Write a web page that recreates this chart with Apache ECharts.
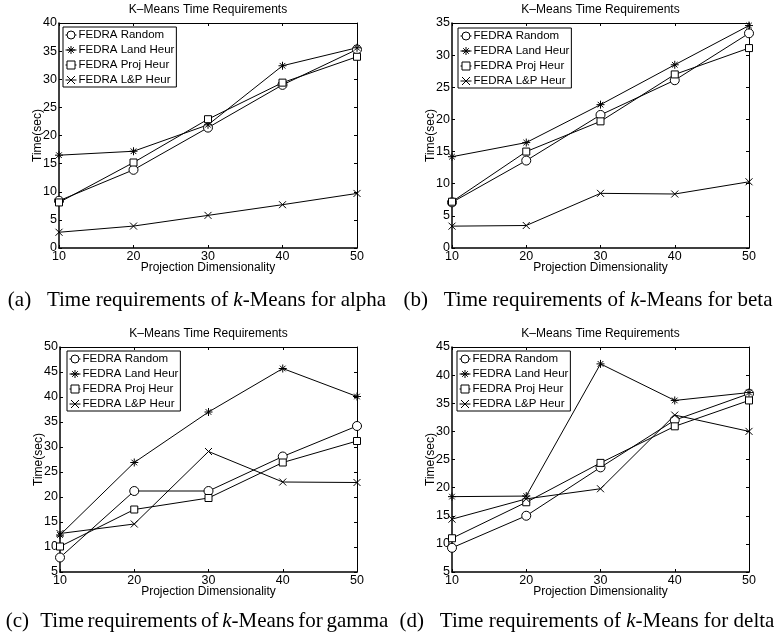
<!DOCTYPE html>
<html>
<head>
<meta charset="utf-8">
<script src="https://cdn.jsdelivr.net/npm/echarts@6/dist/echarts.min.js"></script>
<style>
  html, body { margin: 0; padding: 0; background: #fff; }
  #main { width: 778px; height: 639px; }
</style>
</head>
<body>
<div id="main"></div>
<script>
// projection dimensionality (x)
const dims = [10, 20, 30, 40, 50]
const seriesNames = ['FEDRA Random', 'FEDRA Land Heur', 'FEDRA Proj Heur', 'FEDRA L&P Heur']

// (a) alpha
const alphaRandom = [8.4, 13.9, 21.4, 29.0, 35.3]
const alphaLand = [16.5, 17.2, 21.9, 32.4, 35.6]
const alphaProj = [8.1, 15.2, 22.9, 29.4, 34.0]
const alphaLP = [2.8, 3.9, 5.8, 7.7, 9.7]

// (b) beta
const betaRandom = [7.1, 13.6, 20.7, 26.1, 33.4]
const betaLand = [14.2, 16.4, 22.3, 28.5, 34.6]
const betaProj = [7.2, 15.0, 19.7, 27.0, 31.1]
const betaLP = [3.4, 3.5, 8.5, 8.4, 10.3]

// (c) gamma
const gammaRandom = [7.9, 21.2, 21.2, 28.1, 34.2]
const gammaLand = [12.4, 26.9, 37.0, 45.7, 40.1]
const gammaProj = [10.1, 17.5, 19.8, 26.9, 31.2]
const gammaLP = [12.7, 14.6, 29.1, 23.0, 22.9]

// (d) delta
const deltaRandom = [9.3, 15.0, 23.6, 32.0, 36.7]
const deltaLand = [18.4, 18.5, 42.0, 35.5, 36.9]
const deltaProj = [11.0, 17.4, 24.4, 30.9, 35.5]
const deltaLP = [14.4, 18.0, 19.8, 32.9, 30.0]

// y axis ranges per panel
const yMins = [0, 0, 5, 5]
const yMaxs = [40, 35, 50, 45]

const titleText = 'K–Means Time Requirements'
const xName = 'Projection Dimensionality'
const yName = 'Time(sec)'
// {s| } is a squeezed space (caption (c) is set tighter in the paper)
const captions = [
    '(a)   Time requirements of {i|k}-Means for alpha',
    '(b)   Time requirements of {i|k}-Means for beta',
    '(c){s|   }Time{s| }requirements{s| }of{s| }{i|k}-Means{s| }for{s| }gamma',
    '(d)   Time requirements of {i|k}-Means for delta'
]

const panelData = [
    [alphaRandom, alphaLand, alphaProj, alphaLP],
    [betaRandom, betaLand, betaProj, betaLP],
    [gammaRandom, gammaLand, gammaProj, gammaLP],
    [deltaRandom, deltaLand, deltaProj, deltaLP]
]

// layout
const grids = [
    { left: 59, top: 23, width: 298, height: 225 },
    { left: 452, top: 23, width: 297, height: 225 },
    { left: 60, top: 347, width: 297, height: 225 },
    { left: 452, top: 347, width: 297, height: 225 }
]
const legendPos = [[63, 27], [458, 28], [67, 351], [457, 351]]
const captionPos = [[197, 300], [588, 300], [197, 621], [587, 621]]

const sans = 'Liberation Sans, Arial, Helvetica, sans-serif'
const serif = 'Liberation Serif, Times New Roman, serif'

const symbols = [
    { symbol: 'circle', size: 9 },
    { symbol: 'path://M5 0L5 10M0 5L10 5M1.5 1.5L8.5 8.5M8.5 1.5L1.5 8.5', size: 8 },
    { symbol: 'rect', size: 7 },
    { symbol: 'path://M0 0L10 10M10 0L0 10', size: 7 }
]

const xAxes = []
const yAxes = []
const series = []
const legends = []
const graphics = []

grids.forEach((g, i) => {
    // bottom x axis (labels)
    xAxes.push({
        type: 'value', gridIndex: i, position: 'bottom',
        min: 10, max: 50, interval: 10,
        name: xName, nameLocation: 'middle', nameGap: 14, nameMoveOverlap: false,
        nameTextStyle: { fontFamily: sans, fontSize: 12, color: '#000' },
        axisLine: { onZero: false, lineStyle: { color: '#000', width: 1.5 } },
        axisTick: { inside: true, length: 3, lineStyle: { color: '#000' } },
        axisLabel: { fontFamily: sans, fontSize: 12.5, color: '#000', margin: 2 },
        splitLine: { show: false }
    })
    // top x axis (frame)
    xAxes.push({
        type: 'value', gridIndex: i, position: 'top',
        min: 10, max: 50, interval: 10,
        axisLine: { onZero: false, lineStyle: { color: '#000', width: 1 } },
        axisTick: { inside: true, length: 3, lineStyle: { color: '#000' } },
        axisLabel: { show: false },
        splitLine: { show: false }
    })
    yAxes.push({
        type: 'value', gridIndex: i, position: 'left',
        min: yMins[i], max: yMaxs[i], interval: 5,
        name: yName, nameLocation: 'middle', nameGap: 15, nameMoveOverlap: false,
        nameTextStyle: { fontFamily: sans, fontSize: 12, color: '#000' },
        axisLine: { show: true, onZero: false, lineStyle: { color: '#000', width: 1.5 } },
        axisTick: { show: true, inside: true, length: 3, lineStyle: { color: '#000' } },
        axisLabel: { fontFamily: sans, fontSize: 12.5, color: '#000', margin: 2 },
        splitLine: { show: false }
    })
    yAxes.push({
        type: 'value', gridIndex: i, position: 'right',
        min: yMins[i], max: yMaxs[i], interval: 5,
        axisLine: { show: true, onZero: false, lineStyle: { color: '#000', width: 1 } },
        axisTick: { show: true, inside: true, length: 3, lineStyle: { color: '#000' } },
        axisLabel: { show: false },
        splitLine: { show: false }
    })

    panelData[i].forEach((vals, k) => {
        series.push({
            name: seriesNames[k],
            type: 'line',
            xAxisIndex: i * 2,
            yAxisIndex: i * 2,
            data: dims.map((d, j) => [d, vals[j]]),
            symbol: symbols[k].symbol,
            symbolSize: symbols[k].size,
            showSymbol: true,
            lineStyle: { color: '#000', width: 1 },
            itemStyle: { color: '#fff', borderColor: '#000', borderWidth: 1 },
            emphasis: { disabled: true },
            z: 3
        })
    })

    legends.push({
        orient: 'vertical',
        left: legendPos[i][0], top: legendPos[i][1],
        padding: [2, 2, 1, 2],
        itemGap: 3, itemWidth: 11, itemHeight: 10,
        borderColor: '#000', borderWidth: 1, backgroundColor: '#fff',
        itemStyle: { color: '#fff', borderColor: '#000', borderWidth: 1 },
        lineStyle: { color: '#000', width: 1 },
        textStyle: { fontFamily: sans, fontSize: 11.5, color: '#000', padding: [0, 0, 0, -3] },
        data: seriesNames,
        selectedMode: false,
        z: 5
    })

    graphics.push({
        type: 'text',
        x: g.left + g.width / 2, y: g.top - 13,
        style: {
            text: titleText, fontFamily: sans, fontSize: 12, fill: '#000',
            align: 'center', verticalAlign: 'middle'
        }
    })
    graphics.push({
        type: 'text',
        x: captionPos[i][0], y: captionPos[i][1],
        style: {
            text: captions[i], fontFamily: serif, fontSize: 21, fill: '#000',
            align: 'center', verticalAlign: 'middle',
            rich: {
                i: { fontFamily: serif, fontSize: 21, fontStyle: 'italic', fill: '#000' },
                s: { fontFamily: serif, fontSize: 15, fill: '#000' }
            }
        }
    })
})

const chart = echarts.init(document.getElementById('main'), null, { renderer: 'canvas' })
chart.setOption({
    animation: false,
    backgroundColor: '#fff',
    grid: grids,
    xAxis: xAxes,
    yAxis: yAxes,
    legend: legends,
    series: series,
    graphic: graphics
})
window.addEventListener('resize', function () {
    chart.resize()
})
</script>
</body>
</html>
